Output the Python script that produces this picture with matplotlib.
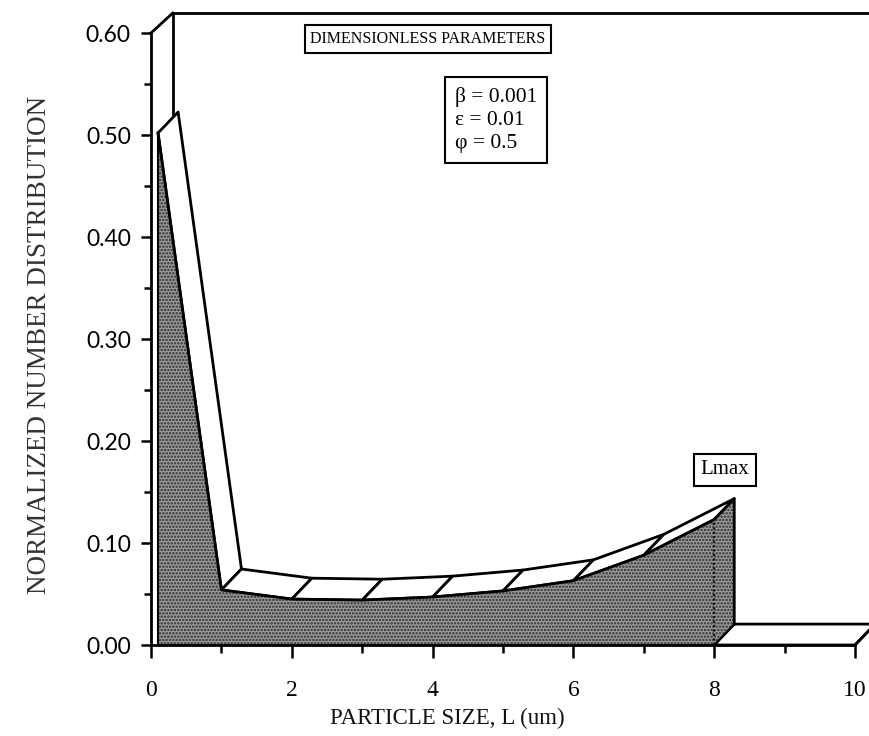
import numpy as np
import matplotlib
matplotlib.use("Agg")
import matplotlib.pyplot as plt
from matplotlib.patches import Polygon

# ---- data ----
size_L = [0.1, 1, 2, 3, 4, 5, 6, 7, 8]
number_N = [0.502, 0.054, 0.045, 0.044, 0.047, 0.053, 0.063, 0.088, 0.123]
tail_L = [8, 10]
tail_N = [0.0, 0.0]
x_major = [0, 2, 4, 6, 8, 10]
x_minor = [1, 3, 5, 7, 9]
y_major = [0.0, 0.1, 0.2, 0.3, 0.4, 0.5, 0.6]
y_minor = [0.05, 0.15, 0.25, 0.35, 0.45, 0.55]
param_lines = ["β = 0.001", "ε = 0.01", "φ = 0.5"]

# ---- style ----
W, H = 869, 736
fig = plt.figure(figsize=(W / 100, H / 100), dpi=100)
x0px, x1px, y0px, y1px = 151, 855, 645, 33
ax = fig.add_axes([x0px / W, (H - y0px) / H, (x1px - x0px) / W, (y0px - y1px) / H])
ax.set_xlim(0, 10)
ax.set_ylim(0, 0.6)
ax.patch.set_visible(False)

# depth of the pseudo-3D ribbon (data units)
DX, DY = 0.285, 0.0205     # series ribbon depth
DXW, DYW = 0.31, 0.0196    # back wall depth

LW = 2.0
SHADE = "#9c9c9c"
HATCHC = "#2a2a2a"
plt.rcParams["hatch.linewidth"] = 1.2

# back wall / floor outline
ax.plot([0, DXW], [0.6, 0.6 + DYW], color="k", lw=LW, clip_on=False, zorder=1)
ax.plot([DXW, 10.6], [0.6 + DYW, 0.6 + DYW], color="k", lw=LW, clip_on=False, zorder=1)
ax.plot([DXW, DXW], [DYW, 0.6 + DYW], color="k", lw=LW, clip_on=False, zorder=1)
ax.plot([DXW, 10.6], [DYW, DYW], color="k", lw=LW, clip_on=False, zorder=1)

# zero-height slab from Lmax to end of axis
slab = Polygon([(tail_L[0], tail_N[0]), (tail_L[1], tail_N[1]),
                (tail_L[1] + DX, tail_N[1] + DY), (tail_L[0] + DX, tail_N[0] + DY)],
               closed=True, fc="white", ec="k", lw=LW, clip_on=False, zorder=2)
ax.add_patch(slab)

# top faces of the ribbon
for i in range(len(size_L) - 1):
    xa, ya, xb, yb = size_L[i], number_N[i], size_L[i + 1], number_N[i + 1]
    quad = Polygon([(xa, ya), (xb, yb), (xb + DX, yb + DY), (xa + DX, ya + DY)],
                   closed=True, fc="white", ec="k", lw=LW, joinstyle="round",
                   clip_on=False, zorder=3)
    ax.add_patch(quad)

# right side face at Lmax
xr, yr = size_L[-1], number_N[-1]
side = Polygon([(xr, yr), (xr + DX, yr + DY), (xr + DX, DY), (xr, 0)], closed=True,
               fc=SHADE, ec=HATCHC, lw=0, hatch=".....", clip_on=False, zorder=3)
ax.add_patch(side)
ax.plot([xr, xr + DX, xr + DX], [yr, yr + DY, DY], color="k", lw=LW, clip_on=False, zorder=4)
ax.plot([xr + DX, xr], [DY, 0], color="k", lw=1.5, clip_on=False, zorder=4)
ax.plot([xr, xr], [0, yr], color="#111111", lw=1.6, ls=(0, (1, 1)), clip_on=False, zorder=5)

# front face
ax.fill_between(size_L, number_N, 0, facecolor=SHADE, edgecolor=HATCHC, hatch=".....",
                lw=0, zorder=3, clip_on=False)
ax.plot(size_L, number_N, color="k", lw=LW, solid_joinstyle="round", zorder=4, clip_on=False)
ax.plot([size_L[0], size_L[0]], [0, number_N[0]], color="k", lw=1.5, zorder=4, clip_on=False)

# axes
for s in ["top", "right"]:
    ax.spines[s].set_visible(False)
for s in ["left", "bottom"]:
    ax.spines[s].set_linewidth(LW)
    ax.spines[s].set_zorder(6)
ax.plot([10, 10 + DX], [0, DY], color="k", lw=LW, clip_on=False, zorder=4)

ax.set_xticks(x_major)
ax.set_xticks(x_minor, minor=True)
ax.set_yticks(y_major)
ax.set_yticks(y_minor, minor=True)
ax.set_xticklabels([str(v) for v in x_major], fontfamily="Liberation Serif", fontsize=17)
ax.set_yticklabels([f"{v:.2f}" for v in y_major], fontfamily="Lato", fontsize=16.5)
ax.tick_params(axis="x", which="major", direction="out", length=9, width=1.8, pad=16)
ax.tick_params(axis="x", which="minor", direction="out", length=6, width=1.8)
ax.tick_params(axis="y", which="major", direction="out", length=7.5, width=1.8, pad=7)
ax.tick_params(axis="y", which="minor", direction="out", length=5, width=1.8)

fig.text(447 / W, 1 - 718 / H, "PARTICLE SIZE, L (um)", ha="center", va="center",
         fontfamily="Liberation Serif", fontsize=16.5, color="#111111")
fig.text(40 / W, 1 - 345 / H, "NORMALIZED NUMBER DISTRIBUTION", ha="center", va="center",
         rotation=90, fontfamily="Liberation Serif", fontsize=19.5, color="#333333")

fig.text(428 / W, 1 - 39 / H, "DIMENSIONLESS PARAMETERS", ha="center", va="center",
         fontfamily="Liberation Serif", fontsize=11.5,
         bbox=dict(boxstyle="square,pad=0.35", fc="white", ec="k", lw=1.5))
fig.text(455 / W, 1 - 120 / H, "\n".join(param_lines), ha="left", va="center",
         fontfamily="Liberation Serif", fontsize=15.5, linespacing=1.3,
         bbox=dict(boxstyle="square,pad=0.45", fc="white", ec="k", lw=1.5))
fig.text(725 / W, 1 - 470 / H, "Lmax", ha="center", va="center",
         fontfamily="Liberation Serif", fontsize=15,
         bbox=dict(boxstyle="square,pad=0.3", fc="white", ec="k", lw=1.5))

fig.savefig("out.png", dpi=100)
